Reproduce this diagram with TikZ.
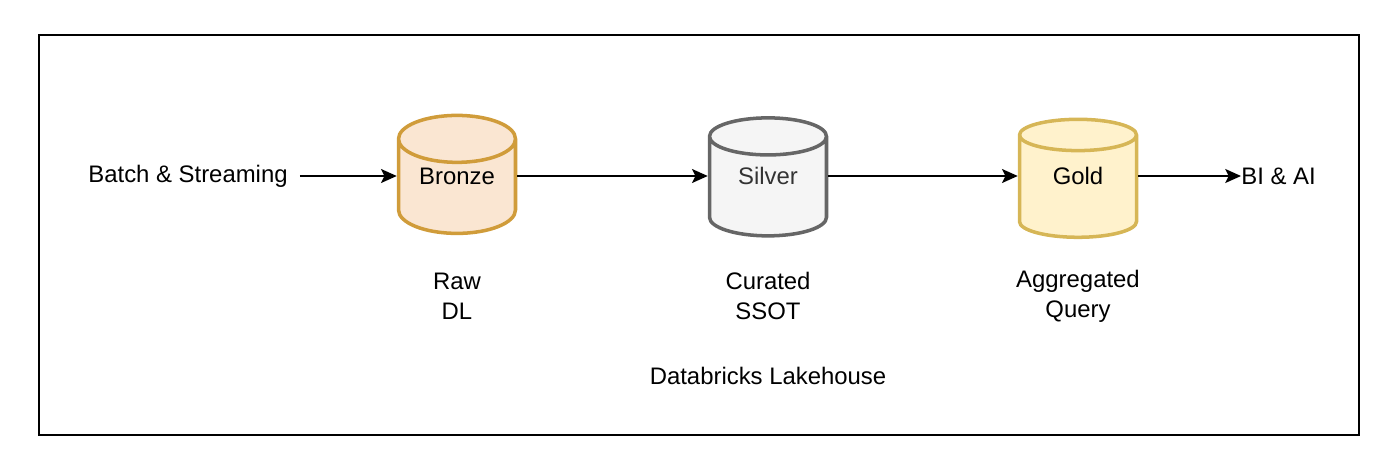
\documentclass[tikz,border=0pt]{standalone}
\usepackage{fontspec}
\setmainfont{Liberation Sans}
\usetikzlibrary{shapes.geometric,arrows.meta}

\definecolor{bronzefill}{RGB}{250,230,210}
\definecolor{bronzeline}{RGB}{208,156,58}
\definecolor{silverfill}{RGB}{245,245,245}
\definecolor{silverline}{RGB}{102,102,102}
\definecolor{silvertext}{RGB}{51,51,51}
\definecolor{goldfill}{RGB}{255,242,204}
\definecolor{goldline}{RGB}{214,182,86}

\begin{document}
\begin{tikzpicture}
		[x=0.02cm,y=-0.02cm,
		 font=\fontsize{13.6}{17}\selectfont,
		 db/.style= {cylinder,shape border rotate=90,aspect=0.62,line width=2pt,
			minimum width=2.34cm,minimum height=2.36cm,inner sep=0pt,text depth=0.44cm},
		 txt/.style= {align=center,inner sep=0pt},
		 link/.style= {line width=1pt,-{Stealth[length=9pt,width=8pt,inset=2pt]}}]

		\useasboundingbox (0,0) rectangle (1398,470);
		\draw[line width=1.1pt] (39,35) rectangle (1359,435);

		\node[txt] (src) at (188,176) {Batch \& Streaming};

		\node[db,fill=bronzefill,draw=bronzeline] (bronze) at (457,187) {Bronze};

		\node[db,fill=silverfill,draw=silverline,text=silvertext] (silver) at (768,187) {Silver};

		\node[db,fill=goldfill,draw=goldline] (gold) at (1078,187) {Gold};

		\node[txt,anchor=west] (bi) at (1241,176) {BI \& AI};

		\node[txt] (raw) at (457,296) {Raw\\DL};
		\node[txt] (curated) at (768,296) {Curated\\SSOT};
		\node[txt] (aggr) at (1078,296) {Aggregated\\Query};

		\node[txt] (lake) at (768,376) {Databricks Lakehouse};

		\draw[link] (src.east) ++(12,0) coordinate (srcout) (srcout) -- (bronze.west |- srcout);
		\draw[link] (bronze.east |- srcout) -- (silver.west |- srcout);
		\draw[link] (silver.east |- srcout) -- (gold.west |- srcout);
		\draw[link] (gold.east |- srcout) -- (bi.west);

	\end{tikzpicture}
\end{document}
